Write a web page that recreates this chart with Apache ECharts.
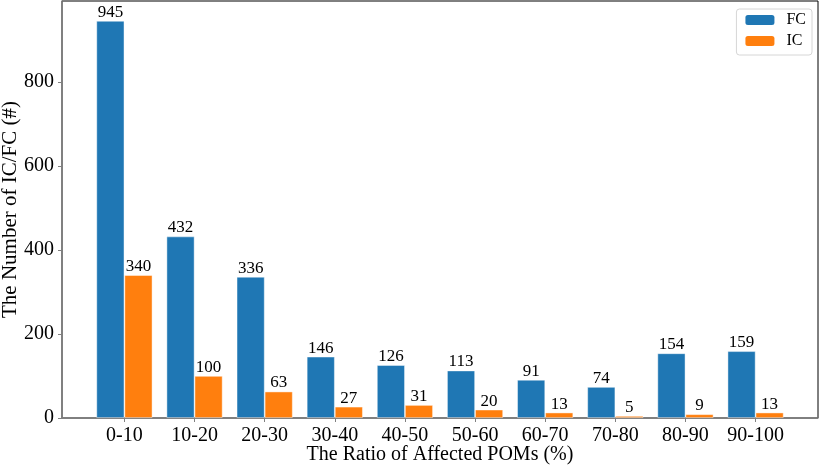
<!DOCTYPE html>
<html>
<head>
<meta charset="utf-8">
<script src="https://cdn.jsdelivr.net/npm/echarts@6/dist/echarts.min.js"></script>
<style>html,body{margin:0;padding:0;background:#fff}#c{width:822px;height:468px}</style>
</head>
<body>
<div id="c"></div>
<script>
const categories = ['0-10','10-20','20-30','30-40','40-50','50-60','60-70','70-80','80-90','90-100'];
const fcValues = [945, 432, 336, 146, 126, 113, 91, 74, 154, 159];
const icValues = [340, 100, 63, 27, 31, 20, 13, 5, 9, 13];
const yTicks = [0, 200, 400, 600, 800];
const yMax = 992.25;

const FONT = '"Liberation Serif", "Times New Roman", serif';
const chart = echarts.init(document.getElementById('c'), null, {renderer: 'canvas'});

// matplotlib-like x range: -0.89 .. 9.89 over plot 62..818
const plotLeft = 62, plotRight = 818;
const unit = (plotRight - plotLeft) / 10.78;
const barLeft = plotLeft + (0.89 - 0.5) * unit;
const barRight = 822 - (plotLeft + (0.89 + 9.5) * unit);

const labelStyle = {show: true, position: 'top', distance: 0, color: '#000', fontFamily: FONT, fontSize: 17};

chart.setOption({
  animation: false,
  backgroundColor: '#fff',
  textStyle: {fontFamily: FONT},
  grid: [
    {left: barLeft, right: barRight, top: 1, bottom: 50, containLabel: false, outerBoundsMode: 'none'},
    {left: plotLeft, right: 822 - plotRight, top: 1, bottom: 50, show: true, borderColor: '#000', borderWidth: 1, backgroundColor: 'transparent', containLabel: false, outerBoundsMode: 'none'}
  ],
  legend: {
    data: ['FC', 'IC'],
    orient: 'vertical',
    right: 10, top: 9,
    itemWidth: 29, itemHeight: 10, itemGap: 5,
    padding: [3, 6, 6, 9],
    backgroundColor: '#fff',
    borderColor: '#d6d6d6', borderWidth: 1, borderRadius: 3,
    textStyle: {fontFamily: FONT, fontSize: 16, color: '#000', lineHeight: 16, padding: [0, 0, 0, 7]},
    itemStyle: {borderWidth: 0}
  },
  xAxis: [
    {
      type: 'category', gridIndex: 0, data: categories,
      boundaryGap: true,
      axisLine: {show: false},
      axisTick: {show: true, alignWithLabel: true, interval: 0, length: 4, lineStyle: {color: '#808080', width: 1}},
      axisLabel: {interval: 0, hideOverlap: false, fontFamily: FONT, fontSize: 20, color: '#000', margin: 8},
      name: 'The Ratio of Affected POMs (%)', nameLocation: 'middle', nameGap: 27, nameMoveOverlap: false,
      nameTextStyle: {fontFamily: FONT, fontSize: 20, color: '#000'}
    },
    {
      type: 'value', gridIndex: 1, min: 0, max: 1,
      axisLine: {show: true, onZero: false, lineStyle: {color: '#808080', width: 1.5}},
      axisTick: {show: false}, axisLabel: {show: false}, splitLine: {show: false}
    }
  ],
  yAxis: [
    {
      type: 'value', gridIndex: 0, min: 0, max: yMax,
      show: false, splitLine: {show: false}
    },
    {
      type: 'value', gridIndex: 1, min: 0, max: yMax,
      axisLine: {show: true, onZero: false, lineStyle: {color: '#808080', width: 1.5}},
      axisTick: {show: true, length: 4, customValues: yTicks, lineStyle: {color: '#808080', width: 1}},
      axisLabel: {customValues: yTicks, fontFamily: FONT, fontSize: 20, color: '#000', margin: 8},
      splitLine: {show: false},
      name: 'The Number of IC/FC (#)', nameLocation: 'middle', nameGap: 41, nameMoveOverlap: false,
      nameTextStyle: {fontFamily: FONT, fontSize: 21, color: '#000'}
    }
  ],
  series: [
    {
      name: 'FC', type: 'bar', xAxisIndex: 0, yAxisIndex: 0,
      data: fcValues, barWidth: '40%', barGap: '0%',
      itemStyle: {color: '#1f77b4', borderColor: 'rgba(255,255,255,0.55)', borderWidth: 0.8},
      label: labelStyle
    },
    {
      name: 'IC', type: 'bar', xAxisIndex: 0, yAxisIndex: 0,
      data: icValues, barWidth: '40%', barGap: '0%',
      itemStyle: {color: '#ff7f0e', borderColor: 'rgba(255,255,255,0.55)', borderWidth: 0.8},
      label: labelStyle
    }
  ]
});
</script>
</body>
</html>
